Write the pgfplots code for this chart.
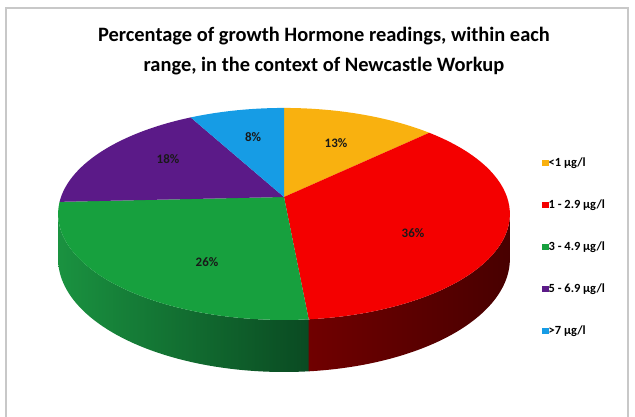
\documentclass[border=0pt]{standalone}
\usepackage{pgfplots}
\pgfplotsset{compat=1.18}
\usepackage{fontspec}
\setmainfont{Carlito}
\definecolor{cOrange}{HTML}{F9B10F}
\definecolor{cRed}{HTML}{F40000}
\definecolor{cGreen}{HTML}{17A03E}
\definecolor{cPurple}{HTML}{5B1A88}
\definecolor{cBlue}{HTML}{169CE5}
\definecolor{sRedL}{HTML}{700000}
\definecolor{sRedR}{HTML}{480000}
\definecolor{sGreenL}{HTML}{1A9240}
\definecolor{sGreenR}{HTML}{0A4A22}
\definecolor{border}{HTML}{C8C8C8}
% data (percent of readings per range)
\def\vA{13}\def\vB{36}\def\vC{26}\def\vD{18}\def\vE{8}
\pgfmathsetmacro{\tot}{\vA+\vB+\vC+\vD+\vE}
\pgfmathsetmacro{\unit}{360/\tot}
\pgfmathsetmacro{\tA}{0}
\pgfmathsetmacro{\tB}{\unit*\vA}
\pgfmathsetmacro{\tC}{\unit*(\vA+\vB)}
\pgfmathsetmacro{\tD}{\unit*(\vA+\vB+\vC)}
\pgfmathsetmacro{\tE}{\unit*(\vA+\vB+\vC+\vD)}
\pgfmathsetmacro{\tF}{360}
\pgfmathsetmacro{\eR}{acos(-0.16)}
\pgfmathsetmacro{\eL}{360-acos(-0.16)}
\newcommand\pieslice[3]{%
\addplot[fill=#1, draw=none, samples at={0,1,...,51}, variable=\s]
 ({(\s<=50)?px(#2+\s/50*(#3-#2),1):284},
  {(\s<=50)?py(#2+\s/50*(#3-#2),1):197});}
\newcommand\pieside[4]{%
\addplot[left color=#1, right color=#2, draw=none, forget plot, samples at={0,1,...,101}, variable=\s]
 ({px((\s<=50)?(#3+\s/50*(#4-#3)):(#4-(\s-51)/50*(#4-#3)),1)},
  {(\s<=50)?py(#3+\s/50*(#4-#3),1):(py(#4-(\s-51)/50*(#4-#3),1)+ths(#4-(\s-51)/50*(#4-#3)))});}
\begin{document}
\begin{tikzpicture}
\begin{axis}[
  scale only axis, width=635bp, height=417bp,
  xmin=0, xmax=635, ymin=0, ymax=417, y dir=reverse,
  hide axis, clip=false,
  declare function={
    px(\t,\r)=284+223*\r*sin(\t)/(1+0.16*\r*cos(\t));
    py(\t,\r)=197-103.3*\r*cos(\t)/(1+0.16*\r*cos(\t));
    ths(\t)=43.7/(1+0.16*cos(\t));
  },
  legend image code/.code={\fill[#1] (0bp,-3.2bp) rectangle (6.5bp,3.2bp);},
  legend cell align=left,
  legend style={at={(axis cs:542,158)}, anchor=north west, draw=none, fill=none,
    inner sep=0pt, row sep=32bp,
    font=\bfseries\fontsize{12.5}{13}\selectfont,
    nodes={inner sep=0pt, text height=8bp, text depth=2bp},
    /tikz/every even column/.append style={column sep=3.5bp}},
]
\draw[border, line width=1.2bp] (axis cs:6,425) -- (axis cs:6,8) -- (axis cs:628,8) -- (axis cs:628,425);
\pieside{sRedL}{sRedR}{\eR}{\tC}
\pieside{sGreenL}{sGreenR}{\tC}{\eL}
\pieslice{cOrange}{\tA}{\tB}
\pieslice{cRed}{\tB}{\tC}
\pieslice{cGreen}{\tC}{\tD}
\pieslice{cPurple}{\tD}{\tE}
\pieslice{cBlue}{\tE}{\tF}
\legend{{<1 µg/l},{1 - 2.9 µg/l},{3 - 4.9 µg/l},{5 - 6.9 µg/l},{>7 µg/l}}
\begin{scope}[every node/.style={font=\bfseries\fontsize{13}{14}\selectfont, text=black!90}]
\node at (axis cs:336,143) {13\%};
\node at (axis cs:413,233) {36\%};
\node at (axis cs:207,262) {26\%};
\node at (axis cs:168,159) {18\%};
\node at (axis cs:253,137) {8\%};
\end{scope}
\node[align=center, font=\bfseries\fontsize{20.5}{30}\selectfont] at (axis cs:324,51)
  {Percentage of growth Hormone readings, within each\\range, in the context of Newcastle Workup};
\end{axis}
\pgfresetboundingbox
\useasboundingbox (current axis.south west) rectangle (current axis.north east);
\end{tikzpicture}
\end{document}
